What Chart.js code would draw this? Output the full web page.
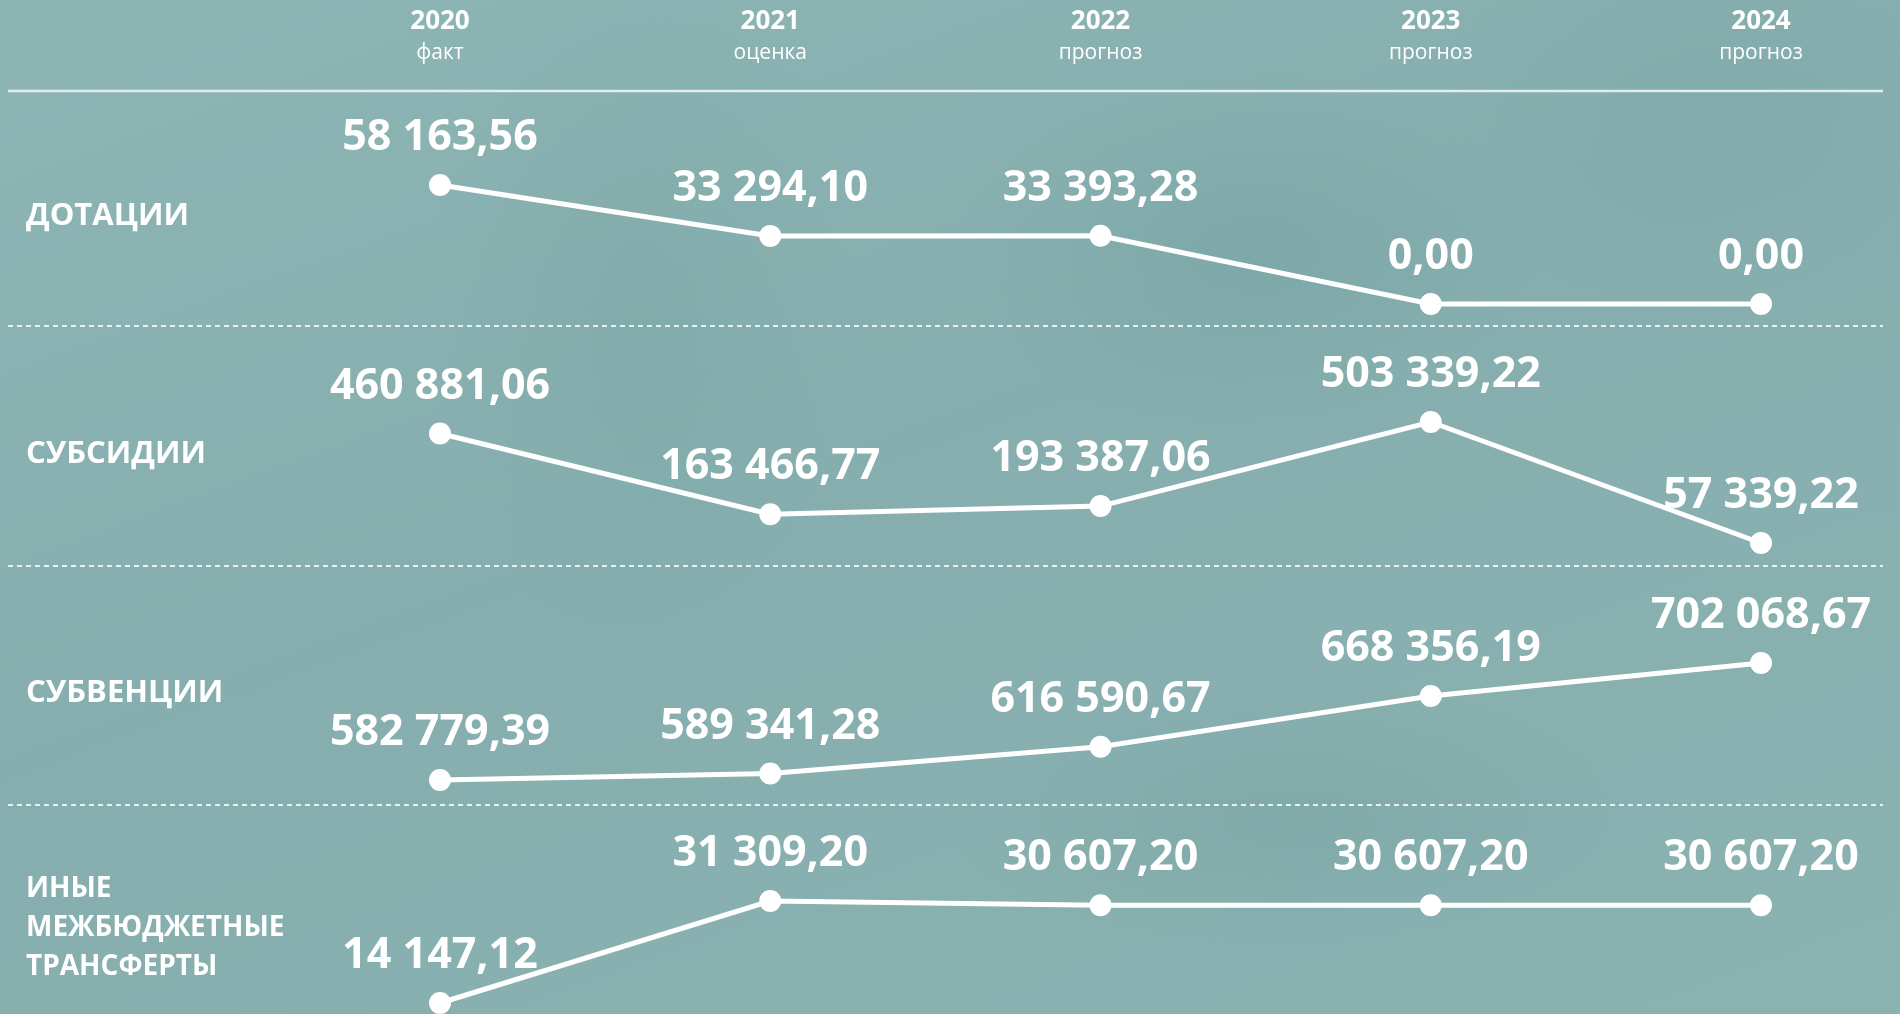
<!DOCTYPE html>
<html lang="ru">
<head>
<meta charset="utf-8">
<title>Межбюджетные трансферты</title>
<script src="https://cdn.jsdelivr.net/npm/chart.js@4.4.1/dist/chart.umd.min.js"></script>
<style>
  html, body { margin: 0; padding: 0; }
  body {
    width: 1900px; height: 1014px; overflow: hidden;
    background-color: #89b2b1;
    background-image:
      radial-gradient(ellipse 420px 260px at 1250px 250px, rgba(110,155,155,0.35), rgba(110,155,155,0) 70%),
      radial-gradient(ellipse 300px 500px at 640px 300px, rgba(115,160,160,0.30), rgba(115,160,160,0) 70%),
      radial-gradient(ellipse 500px 200px at 1300px 820px, rgba(112,156,156,0.35), rgba(112,156,156,0) 70%),
      radial-gradient(ellipse 380px 300px at 1700px 120px, rgba(120,162,162,0.30), rgba(120,162,162,0) 70%),
      linear-gradient(160deg, #8db5b4 0%, #86aeae 45%, #8ab2b1 100%);
  }
  #wrap { position: absolute; left: 0; top: 0; width: 1900px; height: 1014px; }
</style>
</head>
<body>
<div id="wrap"><canvas id="chart" width="1900" height="1014"></canvas></div>
<script>
// ---- data ----
const years = ["2020", "2021", "2022", "2023", "2024"];
const yearNotes = ["факт", "оценка", "прогноз", "прогноз", "прогноз"];
const rowNames = [["ДОТАЦИИ"], ["СУБСИДИИ"], ["СУБВЕНЦИИ"], ["ИНЫЕ", "МЕЖБЮДЖЕТНЫЕ", "ТРАНСФЕРТЫ"]];
const dotacii   = [58163.56, 33294.10, 33393.28, 0.00, 0.00];
const subsidii  = [460881.06, 163466.77, 193387.06, 503339.22, 57339.22];
const subvencii = [582779.39, 589341.28, 616590.67, 668356.19, 702068.67];
const inye      = [14147.12, 31309.20, 30607.20, 30607.20, 30607.20];
const seriesList = [dotacii, subsidii, subvencii, inye];

// ---- layout (pixel bands for each row) ----
const bands = [[185, 304], [422, 543], [663, 780], [901, 1003]];
const rowLabelY = [216, 454, 693, 889];
const separatorsY = [326, 566, 805];

function rangeFor(values, pxTop, pxBottom, areaTop, areaBottom) {
  const hi = Math.max(...values), lo = Math.min(...values);
  const s = (pxBottom - pxTop) / (hi - lo);
  return { min: lo - (areaBottom - pxBottom) / s, max: hi + (pxTop - areaTop) / s };
}

function fmt(v) {
  const parts = v.toFixed(2).split(".");
  const intPart = parts[0].replace(/\B(?=(\d{3})+(?!\d))/g, " ");
  return intPart + "," + parts[1];
}

const yScales = {};
seriesList.forEach((vals, i) => {
  const r = rangeFor(vals, bands[i][0], bands[i][1], 62, 1014);
  yScales["y" + i] = { type: "linear", display: false, min: r.min, max: r.max };
});

const FONT = "'Open Sans', 'DejaVu Sans', sans-serif";

const decorPlugin = {
  id: "decor",
  beforeDatasetsDraw(chart) {
    const ctx = chart.ctx;
    ctx.save();
    ctx.strokeStyle = "rgba(232,242,240,0.92)";
    ctx.lineWidth = 2.5;
    ctx.beginPath(); ctx.moveTo(8, 91); ctx.lineTo(1883, 91); ctx.stroke();
    ctx.strokeStyle = "rgba(240,247,246,0.9)";
    ctx.lineWidth = 2;
    ctx.setLineDash([5, 4]);
    separatorsY.forEach(y => { ctx.beginPath(); ctx.moveTo(8, y); ctx.lineTo(1883, y); ctx.stroke(); });
    ctx.setLineDash([]);
    ctx.fillStyle = "#ffffff";
    ctx.textAlign = "left";
    ctx.textBaseline = "middle";
    rowNames.forEach((lines, i) => {
      const size = lines.length > 1 ? 28 : 31;
      ctx.font = "bold " + size + "px " + FONT;
      lines.forEach((t, k) => ctx.fillText(t, 26, rowLabelY[i] + k * 39));
    });
    ctx.restore();
  },
  afterDatasetsDraw(chart) {
    const ctx = chart.ctx;
    ctx.save();
    ctx.fillStyle = "#ffffff";
    ctx.textAlign = "center";
    ctx.textBaseline = "middle";
    ctx.font = "bold 43px " + FONT;
    chart.data.datasets.forEach((ds, di) => {
      const meta = chart.getDatasetMeta(di);
      meta.data.forEach((pt, j) => {
        ctx.fillText(fmt(ds.data[j]), pt.x, pt.y - 47);
      });
    });
    ctx.restore();
  }
};

const datasets = seriesList.map((vals, i) => ({
  label: rowNames[i].join(" "),
  data: vals,
  yAxisID: "y" + i,
  xAxisID: "x",
  borderColor: "#ffffff",
  backgroundColor: "#ffffff",
  borderWidth: 5,
  pointRadius: 11,
  pointHoverRadius: 11,
  pointBorderWidth: 0,
  tension: 0,
  clip: false
}));

const chart = new Chart(document.getElementById("chart"), {
  type: "line",
  data: { labels: years, datasets: datasets },
  options: {
    responsive: false,
    animation: false,
    events: [],
    layout: { autoPadding: false, padding: { left: 440, right: 139, top: 0, bottom: 0 } },
    plugins: { legend: { display: false }, tooltip: { enabled: false } },
    scales: Object.assign({
      x: {
        type: "category",
        position: "top",
        weight: 2,
        offset: false,
        grid: { display: false, drawTicks: false },
        border: { display: false },
        ticks: {
          color: "#ffffff", padding: 0, maxRotation: 0, autoSkip: false,
          font: { family: FONT, size: 26, weight: "bold", lineHeight: 1.2 }
        },
        afterFit(axis) { axis.height = 37; }
      },
      x2: {
        type: "category",
        position: "top",
        weight: 1,
        offset: false,
        labels: yearNotes,
        grid: { display: false, drawTicks: false },
        border: { display: false },
        ticks: {
          color: "#ffffff", padding: 0, maxRotation: 0, autoSkip: false,
          font: { family: FONT, size: 21, weight: "normal", lineHeight: 1.2 }
        },
        afterFit(axis) { axis.height = 29; }
      }
    }, yScales)
  },
  plugins: [decorPlugin]
});

// refine value ranges with the real chart area
(function () {
  const a = chart.chartArea;
  seriesList.forEach((vals, i) => {
    const r = rangeFor(vals, bands[i][0], bands[i][1], a.top, a.bottom);
    chart.options.scales["y" + i].min = r.min;
    chart.options.scales["y" + i].max = r.max;
  });
  chart.update();
})();
</script>
</body>
</html>
